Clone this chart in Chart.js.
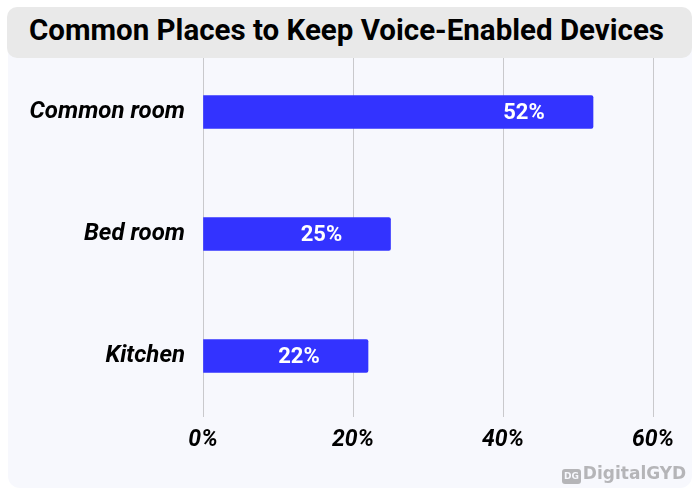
<!DOCTYPE html>
<html>
<head>
<meta charset="utf-8">
<script src="https://cdn.jsdelivr.net/npm/chart.js@4"></script>
<style>
  html, body { margin: 0; padding: 0; background: #ffffff; }
  #wrap { position: relative; width: 700px; height: 500px; overflow: hidden; font-family: Roboto, sans-serif; }
  #panel { position: absolute; left: 8px; top: 8px; width: 684px; height: 480px; background: #f7f8fd; border-radius: 12px; }
  #titlebox { position: absolute; left: 7px; top: 7px; width: 685px; height: 51px; background: #e9e9e9; border-radius: 10px; }
  #title { position: absolute; left: 29px; top: 13px; font-size: 29.5px; font-weight: 700; color: #000; white-space: nowrap; }
  #chart { position: absolute; left: 0; top: 0; }
  #mark { position: absolute; left: 562px; top: 463px; font-family: "DejaVu Sans", sans-serif; font-size: 17px; font-weight: 700; color: #b5b5b8; white-space: nowrap; }
  #mark span.logo { display: inline-block; background: #b5b5b8; color: #f7f8fd; font-size: 9px; line-height: 15px; padding: 0 2px; border-radius: 3px; vertical-align: 0px; margin-right: 2px; }
</style>
</head>
<body>
<div id="wrap">
  <div id="panel"></div>
  <canvas id="chart" width="700" height="500"></canvas>
  <div id="titlebox"></div>
  <div id="title">Common Places to Keep Voice-Enabled Devices</div>
  <div id="mark"><span class="logo">DG</span>DigitalGYD</div>
</div>
<script>
const places = ['Common room', 'Bed room', 'Kitchen'];
const shares = [52, 25, 22];
const xTicks = [0, 20, 40, 60];

// white percentage inside each bar, a bit in from the end
const barLabels = {
  id: 'barLabels',
  afterDatasetsDraw(chart) {
    const ctx = chart.ctx;
    const meta = chart.getDatasetMeta(0);
    ctx.save();
    ctx.fillStyle = '#ffffff';
    ctx.font = 'bold 22px Roboto';
    ctx.textAlign = 'center';
    ctx.textBaseline = 'middle';
    meta.data.forEach((bar, i) => {
      ctx.fillText(shares[i] + '%', bar.x - 69, bar.y + 1);
    });
    ctx.restore();
  }
};

new Chart(document.getElementById('chart').getContext('2d'), {
  type: 'bar',
  data: {
    labels: places,
    datasets: [{
      data: shares,
      backgroundColor: '#3333ff',
      borderRadius: 2,
      borderSkipped: 'start',
      barThickness: 33
    }]
  },
  options: {
    indexAxis: 'y',
    responsive: false,
    animation: false,
    layout: { padding: { top: 51, right: 47, left: 0, bottom: 0 } },
    plugins: {
      legend: { display: false },
      tooltip: { enabled: false }
    },
    scales: {
      x: {
        min: 0,
        max: 60,
        afterBuildTicks: axis => { axis.ticks = xTicks.map(v => ({ value: v })); },
        afterFit: axis => { axis.height = 83; },
        grid: { color: '#c9c9cc', drawTicks: false },
        border: { display: false },
        ticks: {
          padding: 9,
          color: '#000',
          font: { family: 'Roboto', size: 23, weight: 'bold', style: 'italic' },
          callback: v => v + '%'
        }
      },
      y: {
        afterFit: axis => { axis.width = 203; },
        grid: { display: false, drawTicks: false },
        border: { display: false },
        ticks: {
          padding: 18,
          color: '#000',
          font: { family: 'Roboto', size: 24, weight: 'bold', style: 'italic' }
        }
      }
    }
  },
  plugins: [barLabels]
});
</script>
</body>
</html>
